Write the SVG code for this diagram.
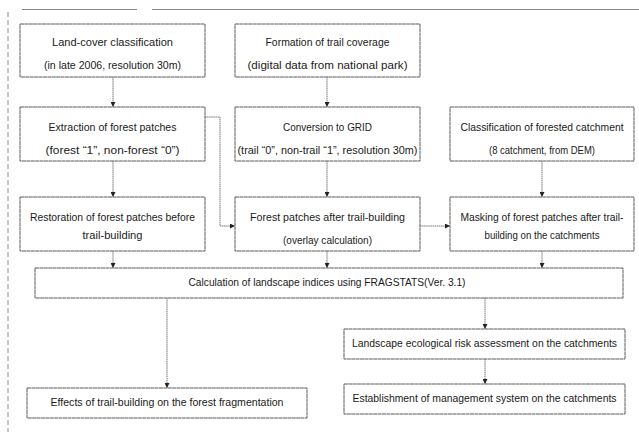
<svg xmlns="http://www.w3.org/2000/svg" width="639" height="432" viewBox="0 0 639 432">
<defs>
<style>
.box{fill:#fff;stroke:#5a5a5a;stroke-width:1;stroke-dasharray:4 0.4}
.t{font-family:"Liberation Sans",Arial,sans-serif;font-size:11px;fill:#1a1a1a;text-anchor:middle;dominant-baseline:middle}
.c{fill:none;stroke:#666;stroke-width:0.9;stroke-dasharray:1.5 0.6}
.frame{fill:none;stroke:#888;stroke-width:1}
</style>
<marker id="ah" viewBox="0 0 6 6" refX="6" refY="3" markerWidth="5" markerHeight="5" orient="auto" markerUnits="userSpaceOnUse">
<path d="M0,0 L6,3 L0,6 z" fill="#222"/>
</marker>
</defs>
<rect width="639" height="432" fill="#fff"/>
<g id="frame">
<path class="frame" d="M22,9.5 H137 M152,9.5 H639"/>
<path class="frame" d="M8,12 V432" stroke-dasharray="5 3"/>
</g>
<g id="connectors">
<path class="c" d="M113,77 V107" marker-end="url(#ah)"/>
<path class="c" d="M327,77 V107" marker-end="url(#ah)"/>
<path class="c" d="M113,161 V197" marker-end="url(#ah)"/>
<path class="c" d="M327,161 V197" marker-end="url(#ah)"/>
<path class="c" d="M542,161 V197" marker-end="url(#ah)"/>
<path class="c" d="M205,117 H220 V226 H235" marker-end="url(#ah)"/>
<path class="c" d="M420,226 H450" marker-end="url(#ah)"/>
<path class="c" d="M113,251 V268" marker-end="url(#ah)"/>
<path class="c" d="M327,251 V268" marker-end="url(#ah)"/>
<path class="c" d="M542,251 V268" marker-end="url(#ah)"/>
<path class="c" d="M167,298 V388" marker-end="url(#ah)"/>
<path class="c" d="M485,298 V329" marker-end="url(#ah)"/>
<path class="c" d="M485,359 V384" marker-end="url(#ah)"/>
</g>
<g id="landcover">
<rect class="box" x="20" y="24" width="185" height="53"/>
<text class="t" x="112.5" y="43" textLength="121" lengthAdjust="spacingAndGlyphs">Land-cover classification</text>
<text class="t" x="112.5" y="66" textLength="137" lengthAdjust="spacingAndGlyphs">(in late 2006, resolution 30m)</text>
</g>
<g id="trailcoverage">
<rect class="box" x="235" y="24" width="185" height="53"/>
<text class="t" x="327.5" y="43" textLength="124" lengthAdjust="spacingAndGlyphs">Formation of trail coverage</text>
<text class="t" x="327.5" y="66" textLength="160" lengthAdjust="spacingAndGlyphs">(digital data from national park)</text>
</g>
<g id="extraction">
<rect class="box" x="20" y="107" width="185" height="54"/>
<text class="t" x="112.5" y="128" textLength="128" lengthAdjust="spacingAndGlyphs">Extraction of forest patches</text>
<text class="t" x="112.5" y="151" textLength="134" lengthAdjust="spacingAndGlyphs">(forest “1”, non-forest “0”)</text>
</g>
<g id="conversion">
<rect class="box" x="235" y="107" width="185" height="54"/>
<text class="t" x="327.5" y="128" textLength="89" lengthAdjust="spacingAndGlyphs">Conversion to GRID</text>
<text class="t" x="327.5" y="151" textLength="180" lengthAdjust="spacingAndGlyphs">(trail “0”, non-trail “1”, resolution 30m)</text>
</g>
<g id="catchment">
<rect class="box" x="450" y="107" width="184" height="54"/>
<text class="t" x="542" y="128" textLength="163" lengthAdjust="spacingAndGlyphs">Classification of forested catchment</text>
<text class="t" x="542" y="151" textLength="106" lengthAdjust="spacingAndGlyphs">(8 catchment, from DEM)</text>
</g>
<g id="restoration">
<rect class="box" x="20" y="197" width="185" height="54"/>
<text class="t" x="112.5" y="218" textLength="165" lengthAdjust="spacingAndGlyphs">Restoration of forest patches before</text>
<text class="t" x="112.5" y="236" textLength="60" lengthAdjust="spacingAndGlyphs">trail-building</text>
</g>
<g id="afterbuilding">
<rect class="box" x="235" y="197" width="185" height="54"/>
<text class="t" x="327.5" y="218" textLength="155" lengthAdjust="spacingAndGlyphs">Forest patches after trail-building</text>
<text class="t" x="327.5" y="241" textLength="89" lengthAdjust="spacingAndGlyphs">(overlay calculation)</text>
</g>
<g id="masking">
<rect class="box" x="450" y="197" width="184" height="54"/>
<text class="t" x="542" y="218" textLength="163" lengthAdjust="spacingAndGlyphs">Masking of forest patches after trail-</text>
<text class="t" x="542" y="236" textLength="115" lengthAdjust="spacingAndGlyphs">building on the catchments</text>
</g>
<g id="fragstats">
<rect class="box" x="35" y="268" width="588" height="30"/>
<text class="t" x="327" y="283" textLength="277" lengthAdjust="spacingAndGlyphs">Calculation of landscape indices using FRAGSTATS(Ver. 3.1)</text>
</g>
<g id="risk">
<rect class="box" x="344" y="329" width="281" height="30"/>
<text class="t" x="484.5" y="344" textLength="265" lengthAdjust="spacingAndGlyphs">Landscape ecological risk assessment on the catchments</text>
</g>
<g id="management">
<rect class="box" x="344" y="384" width="281" height="30"/>
<text class="t" x="484.5" y="399" textLength="264" lengthAdjust="spacingAndGlyphs">Establishment of management system on the catchments</text>
</g>
<g id="effects">
<rect class="box" x="27" y="388" width="280" height="30"/>
<text class="t" x="167" y="403" textLength="233" lengthAdjust="spacingAndGlyphs">Effects of trail-building on the forest fragmentation</text>
</g>
</svg>
